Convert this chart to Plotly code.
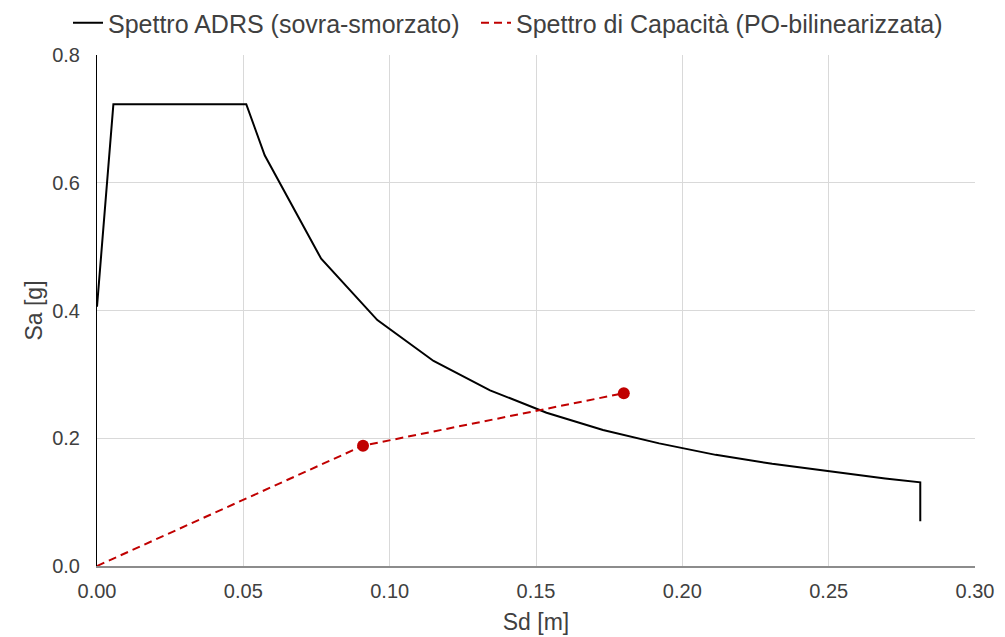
import plotly.graph_objects as go

# ADRS demand spectrum (over-damped), Sd in metres, Sa in g
adrs_sd = [0.0, 0.0056, 0.0510, 0.0573, 0.0766, 0.0958, 0.1150, 0.1343,
           0.1536, 0.1729, 0.1921, 0.2114, 0.2307, 0.2500, 0.2693, 0.2813, 0.2813]
adrs_sa = [0.406, 0.723, 0.723, 0.643, 0.481, 0.385, 0.321, 0.275,
           0.240, 0.213, 0.192, 0.174, 0.160, 0.148, 0.137, 0.131, 0.070]

# Bilinearised pushover capacity spectrum: origin, yield point, ultimate point
cap_sd = [0.0, 0.0909, 0.1800]
cap_sa = [0.0, 0.1884, 0.2705]

x_ticks = [0.00, 0.05, 0.10, 0.15, 0.20, 0.25, 0.30]
y_ticks = [0.0, 0.2, 0.4, 0.6, 0.8]

FONT = "Liberation Sans"
TXT = "#404040"
RED = "#c00000"

fig = go.Figure()
fig.add_trace(go.Scatter(
    x=adrs_sd, y=adrs_sa, mode="lines",
    name="Spettro ADRS (sovra-smorzato)",
    line=dict(color="#000000", width=2),
    legend="legend",
))
fig.add_trace(go.Scatter(
    x=cap_sd, y=cap_sa, mode="lines",
    name="Spettro di Capacità (PO-bilinearizzata)",
    legendgroup="cap",
    line=dict(color=RED, width=2, dash="8px,5px"),
    legend="legend2",
))
# yield and ultimate points of the bilinear curve
fig.add_trace(go.Scatter(
    x=cap_sd[1:], y=cap_sa[1:], mode="markers",
    legendgroup="cap", showlegend=False,
    marker=dict(color=RED, size=12, opacity=1, line=dict(width=0)),
    legend="legend2",
))

legend_style = dict(
    orientation="h", xref="container", yref="container",
    xanchor="left", y=1.0, yanchor="top",
    font=dict(size=25, color=TXT), itemwidth=30,
    bgcolor="rgba(0,0,0,0)",
)

fig.update_layout(
    width=1005, height=637,
    margin=dict(l=97, r=30, t=55, b=71, autoexpand=False),
    paper_bgcolor="white", plot_bgcolor="white",
    font=dict(family=FONT, color=TXT),
    showlegend=True,
    legend=dict(x=68 / 1005, **legend_style),
    legend2=dict(x=476 / 1005, **legend_style),
    xaxis=dict(
        range=[0, 0.30], tickvals=x_ticks,
        ticktext=[f"{v:.2f}" for v in x_ticks],
        showgrid=True, gridcolor="#d9d9d9", gridwidth=1,
        showline=True, linecolor="#8c8c8c", linewidth=1.5,
        zeroline=False, ticks="", ticklabelstandoff=6,
        tickfont=dict(size=20, color=TXT),
        title=dict(text="Sd [m]", font=dict(size=23, color=TXT), standoff=13),
    ),
    yaxis=dict(
        range=[0, 0.8], tickvals=y_ticks,
        ticktext=[f"{v:.1f}" for v in y_ticks],
        showgrid=True, gridcolor="#d9d9d9", gridwidth=1,
        showline=True, linecolor="#000000", linewidth=1,
        zeroline=False, ticks="", ticklabelstandoff=12,
        tickfont=dict(size=20, color=TXT),
        title=dict(text="Sa [g]", font=dict(size=23, color=TXT), standoff=3),
    ),
)

fig.write_html("out.html")
